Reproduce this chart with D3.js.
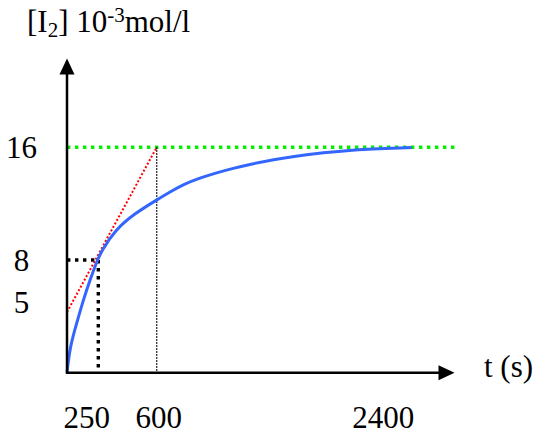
<!DOCTYPE html>
<html>
<head>
<meta charset="utf-8">
<script src="https://cdn.jsdelivr.net/npm/d3@7"></script>
<style>
  body { margin: 0; background: #fff; }
  text { font-family: "Liberation Serif", "Times New Roman", serif; fill: #000; }
</style>
</head>
<body>
<script>
// [I2] versus time
var times  = [0, 24, 77, 130, 184, 237, 270, 350, 470, 600, 707, 813, 947,
              1081, 1215, 1349, 1536, 1804, 2071, 2392, 2646];
var concs  = [0, 1.85, 3.5, 5.15, 6.58, 7.88, 8.65, 10.13, 11.32, 12.26,
              12.83, 13.36, 13.82, 14.2, 14.51, 14.79, 15.13, 15.5, 15.74,
              15.9, 15.99];

// tangent through the start of the reaction, reaching 16 at t = 600
var tangentT = [0, 600];
var tangentC = [4.3, 16];

var xTicks = [250, 600, 2400];
var yTicks = [16, 8, 5];

var cLimit = 16;          // green asymptote
var tHalf = 250, cHalf = 8;
var tEnd = 600;
var tMax = 2990, cMax = 22.3;   // axis arrow tips

var width = 534, height = 436;

var svg = d3.select("body").append("svg")
    .attr("width", width)
    .attr("height", height);

// hand drawn figure: time axis is not quite linear
var x = d3.scaleLinear()
    .domain([0, 250, 600, 2400])
    .range([67, 98.3, 156.7, 381]);

var y = d3.scaleLinear()
    .domain([0, 16])
    .range([372.7, 147.3]);

var line = d3.line()
    .x(function(d){ return x(d[0]); })
    .y(function(d){ return y(d[1]); });

// green asymptote
svg.append("line")
    .attr("x1", x(0)).attr("x2", x(tMax))
    .attr("y1", y(cLimit)).attr("y2", y(cLimit))
    .style("stroke", "#00ee00")
    .style("stroke-width", 3.4)
    .style("stroke-dasharray", "3.4,4.6");

// thin dotted line at t = 600
svg.append("line")
    .attr("x1", x(tEnd)).attr("x2", x(tEnd))
    .attr("y1", y(cLimit)).attr("y2", y(0))
    .style("stroke", "#000")
    .style("stroke-width", 1.4)
    .style("stroke-dasharray", "1.5,1.5");

// heavy dotted lines at (250, 8)
svg.append("line")
    .attr("x1", x(0)).attr("x2", x(tHalf))
    .attr("y1", y(cHalf)).attr("y2", y(cHalf))
    .style("stroke", "#000")
    .style("stroke-width", 3.4)
    .style("stroke-dasharray", "3.4,4.6");

svg.append("line")
    .attr("x1", x(tHalf)).attr("x2", x(tHalf))
    .attr("y1", y(cHalf)).attr("y2", y(0))
    .style("stroke", "#000")
    .style("stroke-width", 3.4)
    .style("stroke-dasharray", "3.4,4.6");

// red tangent
svg.append("path")
    .datum(d3.zip(tangentT, tangentC))
    .attr("d", line)
    .style("fill", "none")
    .style("stroke", "#ff0000")
    .style("stroke-width", 2)
    .style("stroke-dasharray", "2,2");

// blue curve, smoothed over the read-off points
svg.append("path")
    .datum(d3.zip(times, concs))
    .attr("d", line.curve(d3.curveBasis))
    .style("fill", "none")
    .style("stroke", "#3366ff")
    .style("stroke-width", 3);

// axes with arrow heads
var arrowLen = 16, arrowHalf = 7.5;

svg.append("line")
    .attr("x1", x(0)).attr("x2", x(0))
    .attr("y1", y(0) + 1).attr("y2", y(cMax) + arrowLen - 1)
    .style("stroke", "#000")
    .style("stroke-width", 2.5);

svg.append("path")
    .attr("d", "M" + x(0) + "," + y(cMax) +
               "L" + (x(0) - arrowHalf) + "," + (y(cMax) + arrowLen) +
               "L" + (x(0) + arrowHalf) + "," + (y(cMax) + arrowLen) + "Z")
    .style("fill", "#000");

svg.append("line")
    .attr("x1", x(0) - 1).attr("x2", x(tMax) - arrowLen + 1)
    .attr("y1", y(0)).attr("y2", y(0))
    .style("stroke", "#000")
    .style("stroke-width", 2.5);

svg.append("path")
    .attr("d", "M" + x(tMax) + "," + y(0) +
               "L" + (x(tMax) - arrowLen) + "," + (y(0) - arrowHalf) +
               "L" + (x(tMax) - arrowLen) + "," + (y(0) + arrowHalf) + "Z")
    .style("fill", "#000");

// tick labels (the first one sits a little left of its line, as drawn)
svg.selectAll(".xlab")
    .data(xTicks)
    .enter()
    .append("text")
    .attr("class", "xlab")
    .attr("x", function(d){ return x(d); })
    .attr("dx", function(d, i){ return i === 0 ? "-0.37em" : "0.07em"; })
    .attr("y", 428)
    .attr("text-anchor", "middle")
    .style("font-size", "31px")
    .text(function(d){ return d; });

svg.selectAll(".ylab")
    .data(yTicks)
    .enter()
    .append("text")
    .attr("class", "ylab")
    .attr("x", 21.5)
    .attr("y", function(d){ return y(d) + 11; })
    .attr("text-anchor", "middle")
    .style("font-size", "31px")
    .text(function(d){ return d; });

// axis titles
var title = svg.append("text")
    .attr("x", 27)
    .attr("y", 32)
    .style("font-size", "31px");
title.append("tspan").text("[I");
title.append("tspan").attr("dy", 5).style("font-size", "21px").text("2");
title.append("tspan").attr("dy", -5).text("] 10");
title.append("tspan").attr("dy", -10).style("font-size", "21px").text("-3");
title.append("tspan").attr("dy", 10).text("mol/l");

svg.append("text")
    .attr("x", 484)
    .attr("y", 377)
    .style("font-size", "31px")
    .text("t (s)");
</script>
</body>
</html>
